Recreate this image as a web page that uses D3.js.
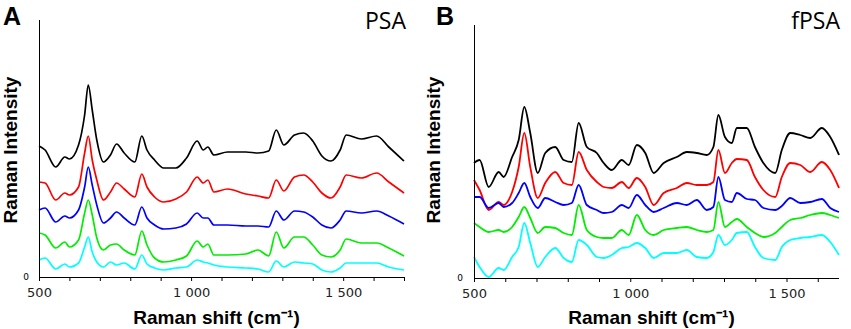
<!DOCTYPE html>
<html>
<head>
<meta charset="utf-8">
<script src="https://cdn.jsdelivr.net/npm/d3@7"></script>
<style>
  body { margin: 0; background: #fff; }
  svg { display: block; }
  .tick-label { font-family: "DejaVu Sans", Verdana, sans-serif; font-size: 13px; fill: #222; }
  .axis-title { font-family: "Liberation Sans", Arial, sans-serif; font-weight: bold; font-size: 19px; fill: #000; }
  .panel-tag { font-family: "Liberation Sans", Arial, sans-serif; font-weight: bold; font-size: 25px; fill: #000; }
  .panel-name { font-family: "Open Sans", "Noto Sans", sans-serif; font-size: 23px; fill: #000; }
</style>
</head>
<body>
<svg width="851" height="329"></svg>
<script>
// series order, top to bottom
const colors = ["#000000", "#ff0000", "#0000ff", "#00ee00", "#00ffff"];
const xTicks = [500, 1000, 1500];

// panel A (PSA)
const shiftA = [500,520,555,585,600,630,650,662,675,690,712,735,755,780,815,838,855,880,910,950,985,1020,1040,1055,1075,1120,1180,1220,1255,1280,1305,1340,1370,1400,1430,1460,1490,1510,1560,1610,1650,1700];
const psaBlack = [131,127,110,120,118,132,162,192,167,137,115,122,133,124,115,141,127,117,109,109,119,136,127,130,122,125,125,124,126,147,132,142,144,136,121,116,127,142,138,141,130,116];
const psaRed   = [95,94,77,84,82,90,124,141,117,97,77,85,94,88,80,103,90,80,75,78,85,100,94,97,85,88,83,81,79,97,86,100,102,95,84,79,90,102,99,104,95,84];
const psaBlue  = [67,69,55,61,59,67,90,110,92,72,54,59,65,59,52,70,59,52,48,49,53,64,59,59,52,52,51,51,50,66,57,66,65,60,52,49,57,66,64,66,61,53];
const psaGreen = [44,42,29,35,30,37,64,77,62,39,27,32,33,27,22,46,32,19,15,17,21,36,30,33,22,22,23,27,21,45,29,40,40,32,22,20,27,38,34,34,29,21];
const psaCyan  = [17,19,8,13,10,14,30,40,25,15,10,15,12,14,8,22,13,9,7,9,10,17,15,14,12,10,9,8,5,16,10,15,14,13,7,5,9,14,14,14,10,7];

// panel B (fPSA)
const shiftB = [500,518,547,579,595,622,643,661,680,704,728,760,787,813,835,861,893,915,941,973,995,1021,1048,1075,1107,1149,1181,1213,1245,1266,1282,1303,1325,1341,1373,1399,1426,1464,1485,1512,1544,1576,1613,1640,1668];
const fpsaBlack = [115,118,91,106,101,121,138,171,145,105,125,131,118,116,155,131,125,115,108,118,113,133,125,105,115,121,126,125,123,131,163,141,135,150,150,131,115,105,128,145,143,140,150,141,123];
const fpsaRed   = [98,88,68,76,73,86,111,145,111,80,95,106,95,93,126,108,96,91,90,96,90,100,91,73,85,90,95,93,93,96,128,105,115,119,118,101,88,81,101,115,113,106,116,108,90];
const fpsaBlue  = [81,81,70,75,71,75,85,95,81,70,80,76,73,75,93,73,68,65,66,73,70,83,73,66,70,75,73,78,68,71,101,78,76,85,79,78,70,68,72,80,75,76,79,70,66];
const fpsaGreen = [55,51,46,48,46,51,61,71,60,45,51,50,45,43,73,48,41,40,40,48,43,63,48,43,48,50,51,48,46,48,76,51,56,59,51,45,41,45,51,58,60,63,65,63,60];
const fpsaCyan  = [21,11,1,10,8,21,31,55,35,11,21,30,20,16,38,33,21,20,23,30,31,35,30,20,25,25,28,21,20,26,43,33,38,45,46,31,20,18,31,38,40,41,43,36,23];

const svg = d3.select("svg");

drawPanel({
  left: 39, top: 20, bottom: 277, right: 404,
  xMax: 1700, yMax: 257,
  shift: shiftA, series: [psaBlack, psaRed, psaBlue, psaGreen, psaCyan],
  tag: "A", tagX: 3, name: "PSA", nameX: 406, yTitleX: 17, zeroX: 26,
  lw: 1.7
});

drawPanel({
  left: 474, top: 25, bottom: 278, right: 839,
  xMax: 1668, yMax: 253,
  shift: shiftB, series: [fpsaBlack, fpsaRed, fpsaBlue, fpsaGreen, fpsaCyan],
  tag: "B", tagX: 436, name: "fPSA", nameX: 840, yTitleX: 440, zeroX: 460,
  lw: 1.8
});

function drawPanel(p) {
  const x = d3.scaleLinear().domain([500, p.xMax]).range([p.left, p.right]);
  const y = d3.scaleLinear().domain([0, p.yMax]).range([p.bottom, p.top]);
  const g = svg.append("g");

  // spectra
  const line = d3.line()
    .x((d, i) => x(p.shift[i]))
    .y(d => y(d))
    .curve(d3.curveMonotoneX);
  g.selectAll(".spec")
    .data(p.series)
    .enter().append("path")
      .attr("d", d => line(d))
      .attr("fill", "none")
      .attr("stroke", (d, i) => colors[i])
      .attr("stroke-width", p.lw)
      .attr("stroke-linejoin", "round");

  // x axis, minor ticks every 100
  const minor = d3.range(500, p.xMax + 1, 100);
  const xAxis = d3.axisBottom(x).tickValues(minor).tickSize(4)
    .tickFormat(d => xTicks.includes(d) ? d3.format(",")(d).replace(",", " ") : "");
  const ax = g.append("g")
    .attr("transform", "translate(0," + p.bottom + ")")
    .call(xAxis);
  ax.select(".domain").attr("d", "M" + p.left + ",0.5H" + p.right).attr("stroke", "#000");
  ax.selectAll("line").attr("stroke", "#000");
  ax.selectAll("text").attr("class", "tick-label").attr("dy", "1.05em").attr("y", 6);

  // y axis line
  g.append("line")
    .attr("x1", p.left + 0.5).attr("x2", p.left + 0.5)
    .attr("y1", p.top).attr("y2", p.bottom)
    .attr("stroke", "#000");
  g.append("text")
    .attr("x", p.zeroX).attr("y", y(0) + 3)
    .attr("text-anchor", "middle")
    .style("font-family", "DejaVu Sans, sans-serif")
    .style("font-size", "9px")
    .text("0");

  // titles
  g.append("text").attr("class", "axis-title")
    .attr("x", (p.left + p.right) / 2 - 5).attr("y", 324)
    .attr("text-anchor", "middle")
    .text("Raman shift (cm\u207B\u00B9)");
  g.append("text").attr("class", "axis-title")
    .attr("transform", "translate(" + p.yTitleX + ",150) rotate(-90)")
    .attr("text-anchor", "middle")
    .text("Raman Intensity");
  g.append("text").attr("class", "panel-tag")
    .attr("x", p.tagX).attr("y", 25)
    .text(p.tag);
  g.append("text").attr("class", "panel-name")
    .attr("x", p.nameX).attr("y", 29)
    .attr("text-anchor", "end")
    .text(p.name);
}
</script>
</body>
</html>
